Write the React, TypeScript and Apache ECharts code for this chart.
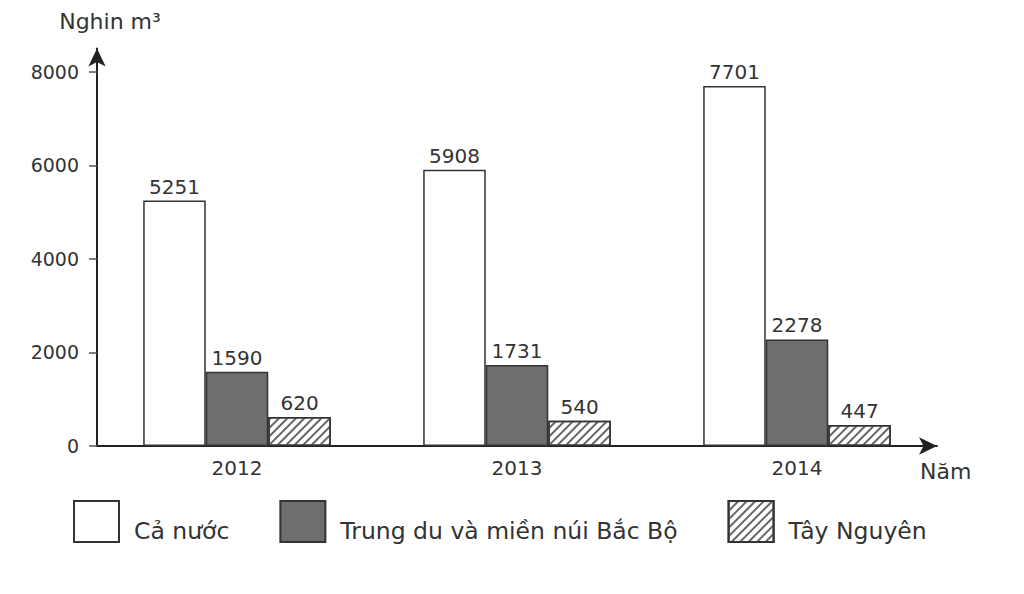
import React, { useEffect, useRef } from "react";
import * as echarts from "echarts";

const categories = ["2012", "2013", "2014"];
const caNuoc = [5251, 5908, 7701];
const trungDu = [1590, 1731, 2278];
const tayNguyen = [620, 540, 447];
const yTicks = [0, 2000, 4000, 6000, 8000];
const seriesNames = ["Cả nước", "Trung du và miền núi Bắc Bộ", "Tây Nguyên"];

const FONT = "DejaVu Sans";
const TEXT = "#333333";
const LINE = "#222222";

export default function App() {
  const ref = useRef<HTMLDivElement>(null);
  useEffect(() => {
    if (!ref.current) return;
    const chart = echarts.init(ref.current, undefined, { renderer: "svg" });
    const label = {
      show: true,
      position: "top",
      distance: 4,
      color: TEXT,
      fontFamily: FONT,
      fontSize: 20,
    };
    chart.setOption({
      animation: false,
      backgroundColor: "#ffffff",
      grid: { left: 97, right: 87, top: 48.6, bottom: 148 },
      legend: {
        left: 68,
        top: 495,
        icon: "rect",
        itemWidth: 45,
        itemHeight: 41,
        itemGap: 50,
        data: seriesNames,
        formatter: (n: string) => `{t|${n}}`,
        textStyle: {
          color: TEXT,
          fontFamily: FONT,
          fontSize: 23.5,
          padding: [0, 0, 0, 10],
          rich: {
            t: {
              color: TEXT,
              fontFamily: FONT,
              fontSize: 23.5,
              padding: [18, 0, 0, 0],
            },
          },
        },
      },
      xAxis: {
        type: "category",
        data: categories,
        name: "Năm",
        nameLocation: "end",
        nameGap: -17,
        nameTextStyle: {
          color: TEXT,
          fontFamily: FONT,
          fontSize: 22,
          align: "left",
          verticalAlign: "top",
          padding: [14, 0, 0, 0],
        },
        axisLine: {
          show: true,
          symbol: ["none", "arrow"],
          symbolSize: [13, 18],
          lineStyle: { color: LINE, width: 2 },
        },
        axisTick: { show: false },
        axisLabel: {
          color: TEXT,
          fontFamily: FONT,
          fontSize: 20,
          margin: 12,
        },
      },
      yAxis: {
        type: "value",
        min: 0,
        max: 8500,
        name: "Nghin m³",
        nameLocation: "end",
        nameGap: 16,
        nameTextStyle: {
          color: TEXT,
          fontFamily: FONT,
          fontSize: 22,
          padding: [0, 0, 0, 26],
        },
        splitLine: { show: false },
        axisLine: {
          show: true,
          symbol: ["none", "arrow"],
          symbolSize: [13, 18],
          lineStyle: { color: LINE, width: 2 },
        },
        axisTick: {
          show: true,
          length: 8,
          customValues: yTicks,
          lineStyle: { color: "#555", width: 1.5 },
        },
        axisLabel: {
          customValues: yTicks,
          formatter: (v: number) => String(v),
          color: TEXT,
          fontFamily: FONT,
          fontSize: 19,
          margin: 18,
        },
      },
      series: [
        {
          name: seriesNames[0],
          type: "bar",
          data: caNuoc,
          barGap: "0%",
          barCategoryGap: "33%",
          itemStyle: { color: "#ffffff", borderColor: "#333", borderWidth: 1.5 },
          label,
        },
        {
          name: seriesNames[1],
          type: "bar",
          data: trungDu,
          barGap: "0%",
          barCategoryGap: "33%",
          itemStyle: { color: "#6e6e6e", borderColor: "#333", borderWidth: 1.5 },
          label,
        },
        {
          name: seriesNames[2],
          type: "bar",
          data: tayNguyen,
          barGap: "0%",
          barCategoryGap: "33%",
          itemStyle: {
            color: "#ffffff",
            borderColor: "#333",
            borderWidth: 1.5,
            decal: {
              symbol: "rect",
              symbolSize: 1,
              dashArrayX: [1, 0],
              dashArrayY: [1.2, 4],
              rotation: -Math.PI / 4,
              color: "#666666",
            },
          },
          label,
        },
      ],
    });
    return () => chart.dispose();
  }, []);
  return (
    <div
      ref={ref}
      style={{ position: "fixed", left: 0, top: 0, width: 1024, height: 594 }}
    />
  );
}
